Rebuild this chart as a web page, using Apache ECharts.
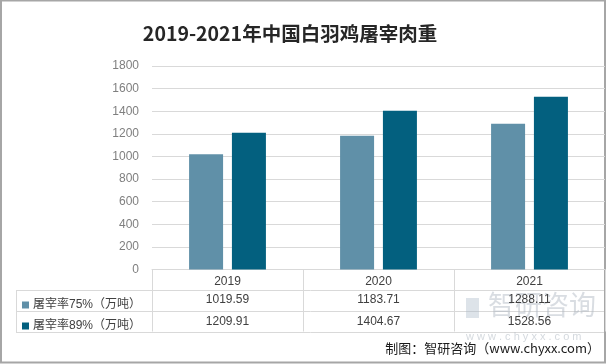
<!DOCTYPE html>
<html><head><meta charset="utf-8">
<script src="https://cdn.jsdelivr.net/npm/echarts@6/dist/echarts.min.js"></script>
<style>html,body{margin:0;padding:0;background:#fff}#c{width:606px;height:364px}</style>
</head><body><div id="c"></div>
<script>
const categories = ['2019', '2020', '2021'];
const seriesNames = ['屠宰率75%（万吨）', '屠宰率89%（万吨）'];
const values75 = [1019.59, 1183.71, 1288.11];
const values89 = [1209.91, 1404.67, 1528.56];
const yTicks = [0, 200, 400, 600, 800, 1000, 1200, 1400, 1600, 1800];

const colors = ['#6090A8', '#03607F'];
const font = '"Liberation Sans", Arial, "Noto Sans CJK SC", sans-serif';
const chart = echarts.init(document.getElementById('c'), null, {renderer: 'canvas'});
const gridLine = '#d9d9d9';

const fmt = v => v.toFixed(2);

chart.setOption({
  animation: false,
  backgroundColor: '#fff',
  title: {
    text: '2019-2021年中国白羽鸡屠宰肉重',
    left: 290, top: 24, textAlign: 'center', padding: 0,
    textStyle: {fontSize: 19.5, fontWeight: 'bold', color: '#262626', fontFamily: '"Noto Sans CJK SC", sans-serif'}
  },
  legend: [
    {data: [seriesNames[0]], orient: 'vertical', left: 17, top: 292, itemWidth: 7, itemHeight: 7, icon: 'rect', itemGap: 0,
     textStyle: {fontSize: 12, color: '#404040', fontFamily: font, lineHeight: 16, padding: [0,0,0,-1]}},
    {data: [seriesNames[1]], orient: 'vertical', left: 17, top: 313, itemWidth: 7, itemHeight: 7, icon: 'rect', itemGap: 0,
     textStyle: {fontSize: 12, color: '#404040', fontFamily: font, lineHeight: 16, padding: [0,0,0,-1]}}
  ],
  grid: {left: 152, right: 1, top: 66, bottom: 94.5, containLabel: false},
  xAxis: [
    {type: 'category', data: categories, position: 'bottom',
     axisLine: {lineStyle: {color: gridLine}},
     axisTick: {show: true, length: 62, lineStyle: {color: gridLine}},
     axisLabel: {color: '#404040', fontSize: 12, fontFamily: font, margin: 6}},
    {type: 'category', data: values75.map(fmt), position: 'bottom', offset: 20.5,
     axisLine: {show: false}, axisTick: {show: false},
     axisLabel: {color: '#404040', fontSize: 12, fontFamily: font, margin: 4}},
    {type: 'category', data: values89.map(fmt), position: 'bottom', offset: 42,
     axisLine: {show: false}, axisTick: {show: false},
     axisLabel: {color: '#404040', fontSize: 12, fontFamily: font, margin: 4}}
  ],
  yAxis: {
    type: 'value', min: yTicks[0], max: yTicks[yTicks.length - 1], interval: yTicks[1] - yTicks[0],
    axisLine: {show: false}, axisTick: {show: false},
    axisLabel: {color: '#7f7f7f', fontSize: 12, fontFamily: font, margin: 13, formatter: v => String(v)},
    splitLine: {lineStyle: {color: gridLine}}
  },
  series: [
    {name: seriesNames[0], type: 'bar', data: values75, xAxisIndex: 0, barWidth: 34, barGap: '26%',
     itemStyle: {color: colors[0]}},
    {name: seriesNames[1], type: 'bar', data: values89, xAxisIndex: 0, barWidth: 34, barGap: '26%',
     itemStyle: {color: colors[1]}}
  ],
  graphic: [
    {type: 'line', shape: {x1: 16, y1: 290.5, x2: 605, y2: 290.5}, style: {stroke: gridLine, lineWidth: 1}},
    {type: 'line', shape: {x1: 16, y1: 311.5, x2: 605, y2: 311.5}, style: {stroke: gridLine, lineWidth: 1}},
    {type: 'line', shape: {x1: 16, y1: 332.5, x2: 605, y2: 332.5}, style: {stroke: gridLine, lineWidth: 1}},
    {type: 'line', shape: {x1: 16.5, y1: 290, x2: 16.5, y2: 333}, style: {stroke: gridLine, lineWidth: 1}},
    {type: 'text', left: 488, top: 291, z: 0, style: {text: '智研咨询', fontSize: 27, fill: 'rgba(170,180,190,0.45)', fontFamily: '"Noto Sans CJK SC", sans-serif', letterSpacing: 2}},
    {type: 'text', left: 466, top: 331, z: 0, style: {text: 'w w w . c h y x x . c o m', fontSize: 11, fill: 'rgba(170,180,190,0.5)', fontFamily: font}},
    {type: 'rect', left: 466, top: 298, z: 0, shape: {width: 13, height: 20}, style: {fill: 'rgba(170,185,200,0.4)'}},
    {type: 'text', right: 6, top: 342, style: {text: '制图：智研咨询（www.chyxx.com）', fontSize: 13, fill: '#1a1a1a', fontFamily: '"Noto Sans CJK SC", sans-serif'}},
    {type: 'rect', shape: {x: 1, y: 0.5, width: 604, height: 362}, style: {fill: 'none', stroke: '#a6a6a6', lineWidth: 2}, silent: true}
  ]
});
</script></body></html>
